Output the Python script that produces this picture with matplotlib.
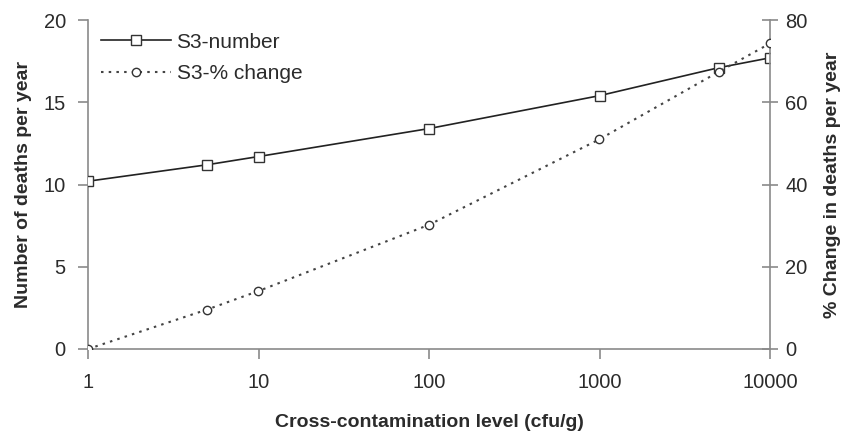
import numpy as np
import matplotlib
matplotlib.use("Agg")
import matplotlib.pyplot as plt

plt.rcParams['font.family'] = ['Liberation Sans', 'DejaVu Sans']

# contamination levels (cfu/g) and model outputs
levels = [1, 5, 10, 100, 1000, 5000, 10000]
deaths_number = [10.2, 11.2, 11.7, 13.4, 15.4, 17.1, 17.7]
pct_change = [0, 9.6, 14.1, 30.2, 51.0, 67.4, 74.3]

x_ticks = [1, 10, 100, 1000, 10000]
x_ticklabels = ['1', '10', '100', '1000', '10000']

text_col = '#2b2b2b'
axis_col = '#8a8a8a'

fig = plt.figure(figsize=(8.49, 4.34), dpi=100)
ax = fig.add_axes([88 / 849, 1 - 349 / 434, (770 - 88) / 849, (349 - 20) / 434])
ax2 = ax.twinx()

l1, = ax.plot(levels, deaths_number, color='#222222', lw=1.2, marker='s',
              ms=6.5, mfc='white', mec='#333333', mew=1.0, label='S3-number', zorder=3)
l2, = ax2.plot(levels, pct_change, color='#444444', lw=1.5, ls=(0, (1.2, 2.5)),
               marker='o', ms=6, mfc='white', mec='#333333', mew=1.0,
               label='S3-% change', zorder=3)

ax.set_xscale('log')
ax.set_xlim(1, 10000)
ax.set_ylim(0, 20)
ax2.set_ylim(0, 80)
ax.set_xticks(x_ticks)
ax.set_xticklabels(x_ticklabels)
ax.minorticks_off()
ax.set_yticks([0, 5, 10, 15, 20])
ax2.set_yticks([0, 20, 40, 60, 80])

for a in (ax, ax2):
    a.spines['top'].set_visible(False)
    for s in ('left', 'right', 'bottom'):
        a.spines[s].set_color(axis_col)
        a.spines[s].set_linewidth(1.2)
    a.tick_params(colors=axis_col, labelcolor=text_col, labelsize=14.5, width=1.2, length=7)
ax.spines['right'].set_visible(False)
ax2.spines['left'].set_visible(False)
ax2.spines['bottom'].set_visible(False)
ax.tick_params(axis='x', pad=10)
ax.tick_params(axis='y', pad=9)
ax2.tick_params(axis='y', direction='inout', length=12, pad=5)

ax.set_xlabel('Cross-contamination level (cfu/g)', fontsize=14, fontweight='bold',
              color=text_col, labelpad=16)
ax.set_ylabel('Number of deaths per year', fontsize=14, fontweight='bold',
              color=text_col, labelpad=8)
ax2.set_ylabel('% Change in deaths per year', fontsize=14, fontweight='bold',
               color=text_col, labelpad=12)

leg = ax.legend(handles=[l1, l2], loc='upper left', frameon=False, fontsize=15,
                handlelength=3.4, handletextpad=0.25, labelspacing=0.62,
                bbox_to_anchor=(0.0, 1.0), borderaxespad=0.2)
for t in leg.get_texts():
    t.set_color(text_col)

fig.savefig('out.png', dpi=100, facecolor='white')
